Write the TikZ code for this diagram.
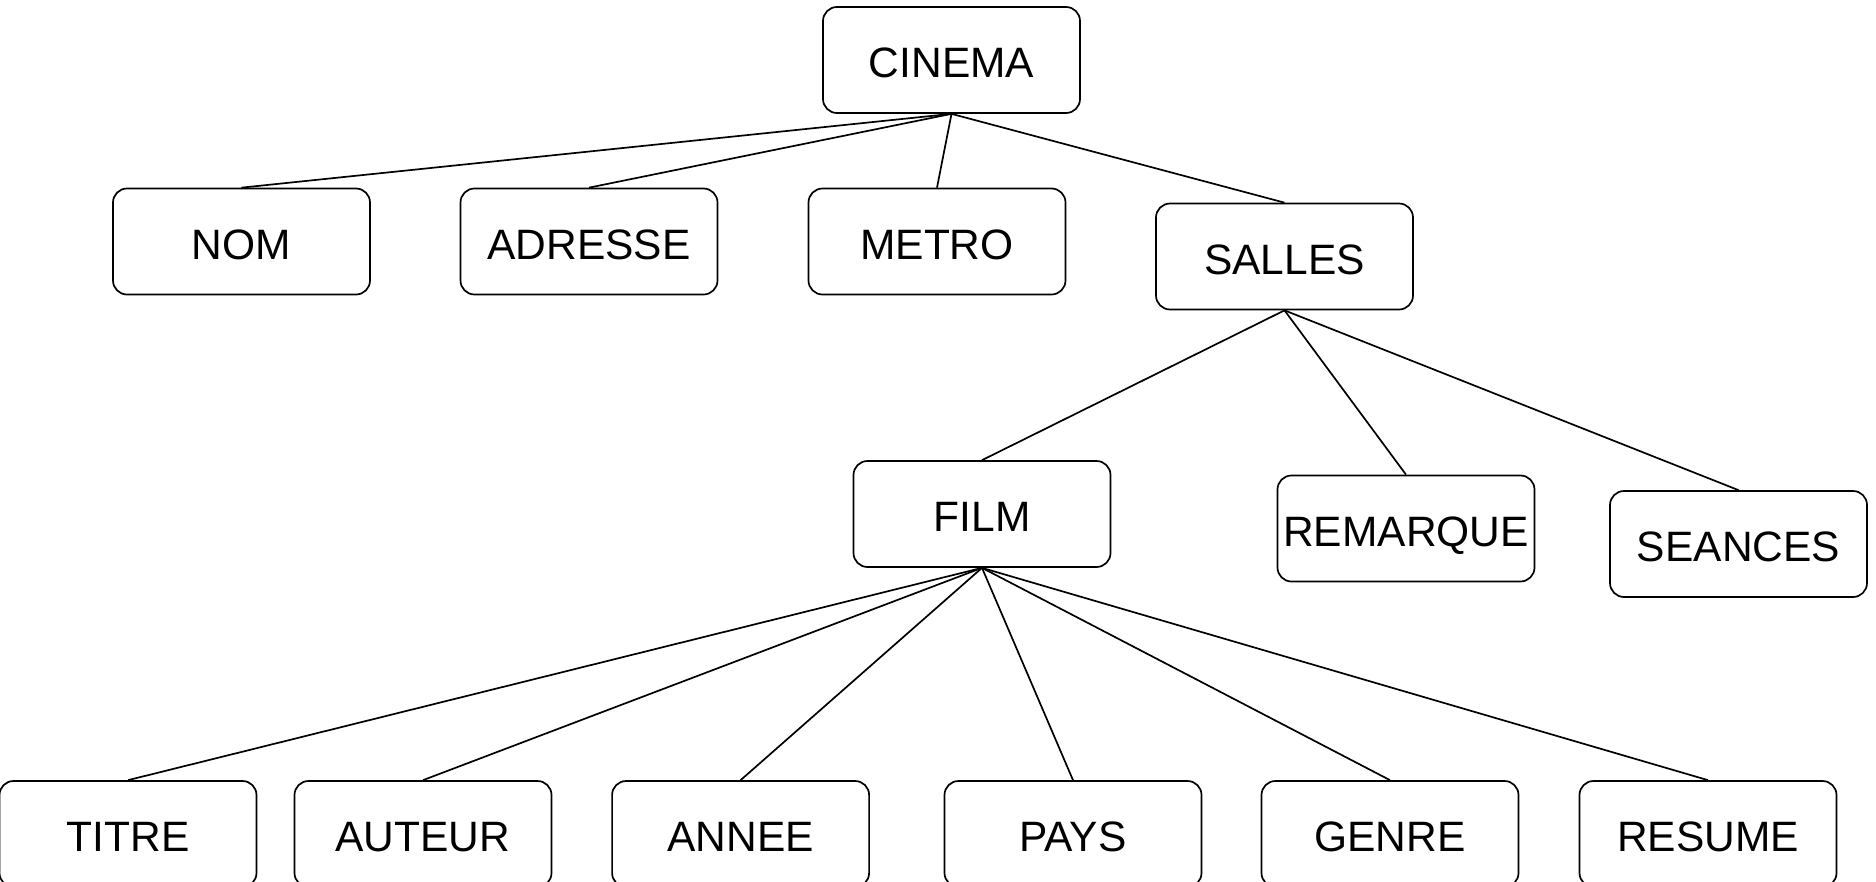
\documentclass[tikz,border=0pt]{standalone}
\usepackage{fontspec}
\setmainfont{Liberation Sans}
\begin{document}
\begin{tikzpicture}[x=1pt,y=1pt,
  box/.style={draw=black, line width=1.7pt, rounded corners=14pt, fill=white,
    minimum width=257pt, minimum height=106pt, inner sep=0pt,
    text height=35pt, text depth=0pt,
    font=\fontsize{42.5}{50}\selectfont},
  link/.style={draw=black, line width=1.7pt}]
\useasboundingbox (0,0) rectangle (1876,-881);
\fill[white] (0,0) rectangle (1876,-881);
\node[box] (cinema) at (951.5,-60) {CINEMA};
\node[box] (nom) at (241.5,-241.5) {NOM};
\node[box] (adresse) at (589,-241.5) {ADRESSE};
\node[box] (metro) at (937,-241.5) {METRO};
\node[box] (salles) at (1284.5,-256.5) {SALLES};
\node[box] (film) at (982,-514) {FILM};
\node[box] (remarque) at (1406,-528.5) {REMARQUE};
\node[box] (seances) at (1738.5,-544) {SEANCES};
\node[box] (titre) at (128,-834) {TITRE};
\node[box] (auteur) at (423,-834) {AUTEUR};
\node[box] (annee) at (740.6,-834) {ANNEE};
\node[box] (pays) at (1073,-834) {PAYS};
\node[box] (genre) at (1390,-834) {GENRE};
\node[box] (resume) at (1708,-834) {RESUME};
\foreach \c in {nom,adresse,metro,salles}
  \draw[link] (cinema.south) -- (\c.north);
\foreach \c in {film,remarque,seances}
  \draw[link] (salles.south) -- (\c.north);
\foreach \c in {titre,auteur,annee,pays,genre,resume}
  \draw[link] (film.south) -- (\c.north);
\end{tikzpicture}
\end{document}
